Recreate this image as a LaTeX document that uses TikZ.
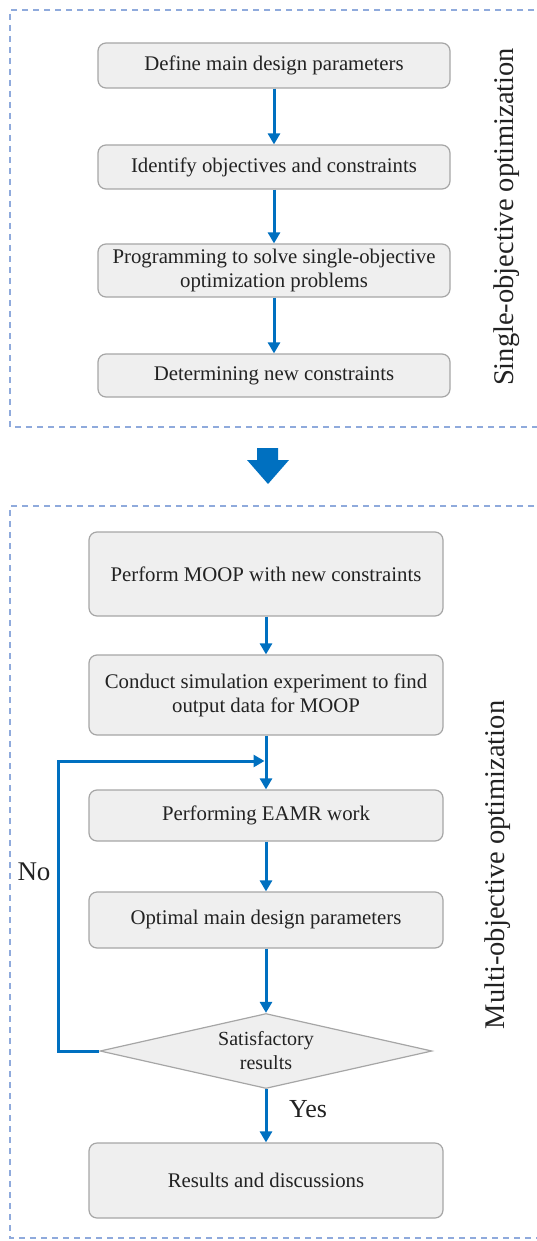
\documentclass[tikz,border=0pt]{standalone}
\usepackage{fontspec}
\setmainfont{Liberation Serif}
\usetikzlibrary{arrows.meta,shapes.geometric}
\definecolor{flowblue}{HTML}{0070C0}
\definecolor{framebl}{HTML}{8FAADC}
\definecolor{boxfill}{HTML}{EFEFEF}
\definecolor{boxline}{HTML}{A6A6A6}
\definecolor{txt}{HTML}{222222}
\begin{document}
\begin{tikzpicture}[x=1pt,y=-1pt,
 stepbox/.style={draw=boxline, fill=boxfill, rounded corners=8pt, line width=1.2pt, text=txt,
   font=\fontsize{20.8}{24}\selectfont, align=center, inner sep=0pt},
 decision/.style={diamond, aspect=4.4, draw=boxline, fill=boxfill, line width=1.2pt, text=txt,
   font=\fontsize{20}{24}\selectfont, align=center, inner sep=0pt},
 flow/.style={draw=flowblue, line width=3pt, -{Triangle[width=12pt,length=11pt]}},
 frame/.style={draw=framebl, line width=1.5pt, dash pattern=on 6pt off 5pt},
 side/.style={rotate=90, font=\fontsize{28.5}{30}\selectfont, text=txt},
 lbl/.style={font=\fontsize{27}{30}\selectfont, text=txt},
]
\useasboundingbox (0,0) rectangle (536,1241);

% frames
\draw[frame] (545,10) -- (10,10) -- (10,427) -- (545,427);
\draw[frame] (545,506) -- (10,506) -- (10,1238) -- (545,1238);

% single-objective part
\node[stepbox, minimum width=352pt, minimum height=45pt] (b1) at (274,65.5) {Define main design parameters};
\node[stepbox, minimum width=352pt, minimum height=44pt] (b2) at (274,167) {Identify objectives and constraints};
\node[stepbox, minimum width=352pt, minimum height=53pt] (b3) at (274,270.5) {Programming to solve single-objective\\optimization problems};
\node[stepbox, minimum width=352pt, minimum height=43pt] (b4) at (274,375.5) {Determining new constraints};
\draw[flow] (b1) -- (b2);
\draw[flow] (b2) -- (b3);
\draw[flow] (b3) -- (b4);
\node[side] (s1) at (507,217) {Single-objective optimization};

% big arrow
\fill[flowblue] (257,448) -- (278,448) -- (278,460) -- (289,460) -- (268,484) -- (247,460) -- (257,460) -- cycle;

% multi-objective part
\node[stepbox, minimum width=354pt, minimum height=84pt] (m1) at (266,574) {Perform MOOP with new constraints};
\node[stepbox, minimum width=354pt, minimum height=80pt] (m2) at (266,695) {Conduct simulation experiment to find\\output data for MOOP};
\node[stepbox, minimum width=354pt, minimum height=51pt] (m3) at (266,815.5) {Performing EAMR work};
\node[stepbox, minimum width=354pt, minimum height=56pt] (m4) at (266,920) {Optimal main design parameters};
\node[decision, minimum width=332pt, minimum height=75pt] (d) at (266,1051) {Satisfactory\\results};
\node[stepbox, minimum width=354pt, minimum height=75pt] (m5) at (266,1180.5) {Results and discussions};
\coordinate (j) at (266,761);
\coordinate (lx) at (58,0);

\draw[flow] (m1) -- (m2);
\draw[flow] (m2) -- (m3);
\draw[flow] (m3) -- (m4);
\draw[flow] (m4) -- (d);
\draw[flow] (d) -- (m5);
\draw[flow, shorten >=1.5pt] (d.west) -- (d.west -| lx) -- (lx |- j) -- (j);

\node[lbl] (no) at (34,872) {No};
\node[lbl, font=\fontsize{26}{28}\selectfont] (yes) at (308,1109) {Yes};
\node[side] (s2) at (498,865) {Multi-objective optimization};
\end{tikzpicture}
\end{document}
